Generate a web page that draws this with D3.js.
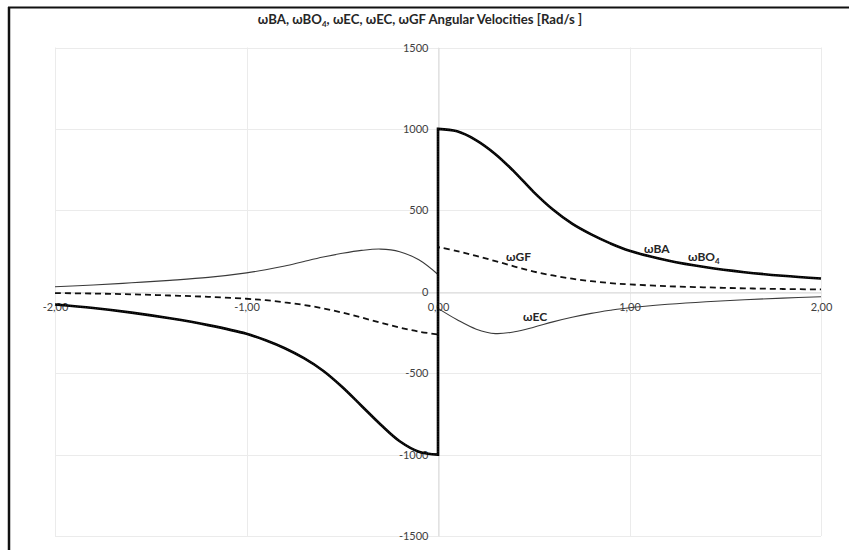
<!DOCTYPE html>
<html>
<head>
<meta charset="utf-8">
<script src="https://cdn.jsdelivr.net/npm/d3@7"></script>
<style>
  html, body { margin: 0; padding: 0; background: #fff; }
  svg { display: block; }
  text { font-family: Lato, "Open Sans", sans-serif; }
</style>
</head>
<body>
<svg id="chart" width="849" height="550"></svg>
<script>
// ---------------- DATA ----------------
const xLeft  = [-2, -1.8, -1.6, -1.4, -1.2, -1.0, -0.9, -0.8, -0.7, -0.6, -0.5, -0.4, -0.3, -0.2, -0.1, 0];
const xRight = [0, 0.1, 0.2, 0.3, 0.4, 0.5, 0.6, 0.7, 0.8, 0.9, 1.0, 1.2, 1.4, 1.6, 1.8, 2.0];

const wBA_left  = [-78, -100, -128, -163, -205, -258, -298, -347, -408, -485, -585, -700, -815, -918, -982, -1000];
const wBA_right = [1000, 985, 930, 845, 735, 612, 505, 418, 352, 297, 252, 192, 150, 120, 98, 81];

const wBO4_left  = [-78, -100, -128, -163, -205, -258, -298, -347, -408, -485, -585, -700, -815, -918, -982, -1000];
const wBO4_right = [1000, 985, 930, 845, 735, 612, 505, 418, 352, 297, 252, 192, 150, 120, 98, 81];

const wEC_left  = [31, 41, 55, 70, 88, 116, 135, 158, 186, 213, 236, 254, 262, 246, 196, 106];
const wEC_right = [-102, -172, -230, -257, -246, -218, -185, -157, -133, -114, -98, -77, -61, -49, -39, -31];

const wGF_left  = [-8, -11, -16, -23, -31, -43, -52, -65, -81, -102, -128, -158, -190, -220, -245, -262];
const wGF_right = [274, 250, 220, 188, 155, 124, 100, 80, 65, 53, 45, 34, 27, 21, 17, 14];

const xTicks = [-2, -1, 0, 1, 2];
const yTicks = [-1500, -1000, -500, 0, 500, 1000, 1500];

// ---------------- CHART ----------------
const svg = d3.select("#chart");
const x = d3.scaleLinear().domain([-2, 2]).range([55, 821]);
const y = d3.scaleLinear().domain([-1500, 1500]).range([536, 47.5]);

// outer frame (left/top heavy border)
svg.append("line").attr("x1", 9).attr("x2", 9).attr("y1", 7).attr("y2", 550)
  .attr("stroke", "#111").attr("stroke-width", 2.5);
svg.append("line").attr("x1", 8).attr("x2", 849).attr("y1", 7.5).attr("y2", 7.5)
  .attr("stroke", "#111").attr("stroke-width", 2);

// gridlines
const grid = svg.append("g").attr("stroke", "#ebebeb").attr("stroke-width", 1);
xTicks.forEach(t => grid.append("line")
  .attr("x1", Math.round(x(t)) + 0.5).attr("x2", Math.round(x(t)) + 0.5)
  .attr("y1", y(1500)).attr("y2", y(-1500)));
yTicks.forEach(t => grid.append("line")
  .attr("x1", x(-2)).attr("x2", x(2))
  .attr("y1", Math.round(y(t)) + 0.5).attr("y2", Math.round(y(t)) + 0.5));

// axes
const fmtX = d => d.toFixed(2).replace(".", ",");
const xAxis = svg.append("g")
  .attr("transform", `translate(0,${Math.round(y(0)) + 0.5})`)
  .call(d3.axisBottom(x).tickValues(xTicks).tickSize(0).tickPadding(11).tickFormat(fmtX));
xAxis.select(".domain").attr("stroke", "#d9d9d9");
xAxis.selectAll("text").attr("fill", "#404040").style("font-size", "11px");

const yAxis = svg.append("g")
  .attr("transform", `translate(${Math.round(x(0)) + 0.5},0)`)
  .call(d3.axisLeft(y).tickValues(yTicks).tickSize(0).tickPadding(10).tickFormat(d => String(d)));
yAxis.select(".domain").attr("stroke", "#d9d9d9");
yAxis.selectAll("text").attr("fill", "#404040").style("font-size", "11px");

// series
const line = d3.line().x(d => x(d[0])).y(d => y(d[1])).curve(d3.curveCatmullRom.alpha(0.5));
function seriesPath(left, right) {
  const a = line(xLeft.map((v, i) => [v, left[i]]));
  const b = line(xRight.map((v, i) => [v, right[i]]));
  return a + b.replace(/^M/, "L");
}

svg.append("path").attr("d", seriesPath(wEC_left, wEC_right))
  .attr("fill", "none").attr("stroke", "#3a3a3a").attr("stroke-width", 1.1);
svg.append("path").attr("d", seriesPath(wGF_left, wGF_right))
  .attr("fill", "none").attr("stroke", "#111").attr("stroke-width", 1.8)
  .attr("stroke-dasharray", "6,4");
svg.append("path").attr("d", seriesPath(wBA_left, wBA_right))
  .attr("fill", "none").attr("stroke", "#000").attr("stroke-width", 2.6);
svg.append("path").attr("d", seriesPath(wBO4_left, wBO4_right))
  .attr("fill", "none").attr("stroke", "#222").attr("stroke-width", 1.2)
  .attr("stroke-dasharray", "1,1.5");

// series labels
function label(txt, sub, dx, dv) {
  const t = svg.append("text").attr("x", x(dx)).attr("y", y(dv))
    .attr("fill", "#262626").style("font-size", "12px").style("font-weight", "bold");
  t.append("tspan").text(txt);
  if (sub) t.append("tspan").text(sub).attr("dy", 3).style("font-size", "8px");
}
label("ωBA", null, 1.076, 241);
label("ωBO", "4", 1.305, 186);
label("ωGF", null, 0.355, 186);
label("ωEC", null, 0.444, -182);

// title
const title = svg.append("text").attr("x", 420).attr("y", 24).attr("text-anchor", "middle")
  .attr("fill", "#262626").style("font-size", "12px").style("font-weight", "bold");
title.append("tspan").text("ωBA, ωBO");
title.append("tspan").text("4").attr("dy", 3).style("font-size", "8px");
title.append("tspan").text(", ωEC, ωEC, ωGF Angular  Velocities [Rad/s ]").attr("dy", -3);
const len = title.node().getComputedTextLength();
if (len > 0) title.style("font-size", (12 * 325 / len).toFixed(2) + "px");
</script>
</body>
</html>
